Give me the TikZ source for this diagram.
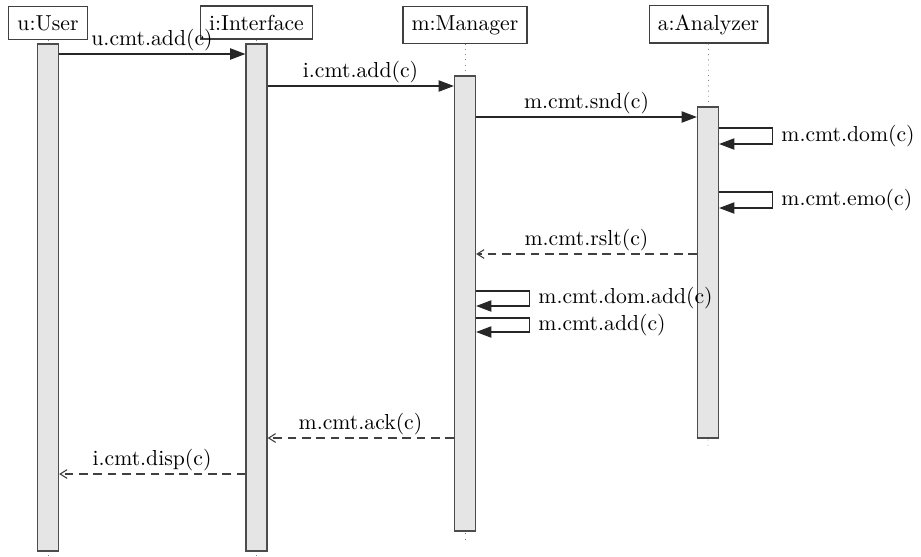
\documentclass[tikz,border=0pt]{standalone}
\usetikzlibrary{arrows.meta,fit}
\begin{document}
\begin{tikzpicture}[x=0.4608pt,y=-0.4608pt,
  inst/.style={draw=black!75, line width=0.6pt, fill=white, inner sep=4pt, anchor=base},
  actbar/.style={draw=black!70, line width=0.6pt, fill=gray!20, inner sep=0pt},
  life/.style={draw=gray, dotted},
  call/.style={draw=black!85, line width=0.5pt, -{Triangle[length=7pt,width=5.2pt]}},
  ret/.style={draw=black!75, line width=0.5pt, dash pattern=on 4pt off 2.6pt, -{Straight Barb[length=3.2pt,width=4pt]}},
  lbl/.style={anchor=base, inner sep=0pt},
  slbl/.style={anchor=west, inner sep=0pt}]
\useasboundingbox (0,0) rectangle (921,556);

% instance boxes
\node[inst] (ubox) at (48,30) {u:User};
\node[inst] (ibox) at (256.5,30) {i:Interface};
\node[inst] (mbox) at (465,30) {m:Manager};
\node[inst] (abox) at (708.5,30) {a:Analyzer};

% lifeline ends
\coordinate (uend) at (48,560);
\coordinate (iend) at (256.5,560);
\coordinate (mend) at (465,541);
\coordinate (aend) at (708,447);

\draw[life] (ubox.south) -- (uend);
\draw[life] (ibox.south) -- (iend);
\draw[life] (mbox.south) -- (mend);
\draw[life] (abox.south) -- (aend);

% activation bars
\node[actbar, fit={(37.5,44)(58.5,551)}] (ub) {};
\node[actbar, fit={(246,44)(267,551)}] (ib) {};
\node[actbar, fit={(454.5,76)(475.5,531)}] (mb) {};
\node[actbar, fit={(697.5,107)(718.5,438)}] (ab) {};

% calls
\draw[call] (ub.east |- 0,54) -- (ib.west |- 0,54);
\node[lbl] (l1) at (152,45.5) {u.cmt.add(c)};

\draw[call] (ib.east |- 0,86) -- (mb.west |- 0,86);
\node[lbl] (l2) at (360.5,77) {i.cmt.add(c)};

\draw[call] (mb.east |- 0,117) -- (ab.west |- 0,117);
\node[lbl] (l3) at (586.5,108) {m.cmt.snd(c)};

% self calls on analyzer
\draw[call] (ab.east |- 0,128) -- ++(53,0) |- (ab.east |- 0,144);
\node[slbl] (l4) at (781,136) {m.cmt.dom(c)};

\draw[call] (ab.east |- 0,192) -- ++(53,0) |- (ab.east |- 0,208);
\node[slbl] (l5) at (781,200) {m.cmt.emo(c)};

% result
\draw[ret] (ab.west |- 0,254) -- (mb.east |- 0,254);
\node[lbl] (l6) at (586.5,245) {m.cmt.rslt(c)};

% self calls on manager
\draw[call] (mb.east |- 0,291) -- ++(53,0) |- (mb.east |- 0,306);
\node[slbl] (l7) at (538,298.5) {m.cmt.dom.add(c)};

\draw[call] (mb.east |- 0,318) -- ++(53,0) |- (mb.east |- 0,332);
\node[slbl] (l8) at (538,325) {m.cmt.add(c)};

% returns
\draw[ret] (mb.west |- 0,438) -- (ib.east |- 0,438);
\node[lbl] (l9) at (360.5,429) {m.cmt.ack(c)};

\draw[ret] (ib.west |- 0,474) -- (ub.east |- 0,474);
\node[lbl] (l10) at (152,465) {i.cmt.disp(c)};
\end{tikzpicture}
\end{document}
